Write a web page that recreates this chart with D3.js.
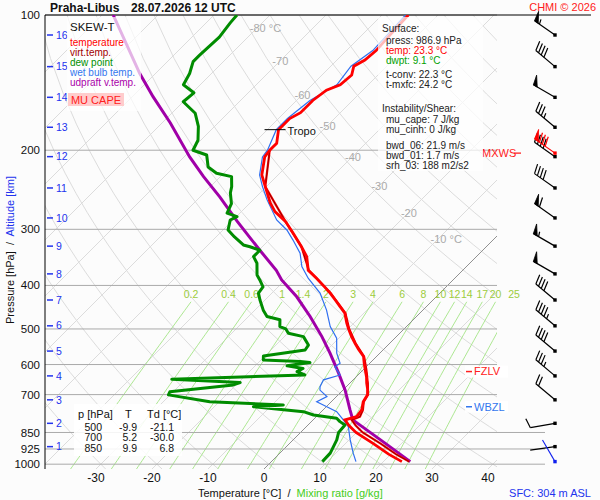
<!DOCTYPE html>
<html><head><meta charset="utf-8">
<script src="https://cdn.jsdelivr.net/npm/d3@7"></script>
<style>body{margin:0;background:#fff}svg{display:block;font-family:"Liberation Sans",Arial,sans-serif}</style>
</head><body><svg width="600" height="500"></svg>
<script>
// ---------- data ----------
const pressureTicks=[100,200,300,400,500,600,700,850,925,1000];
const longIsobars=[850,925,1000];
const tempTicks=[-30,-20,-10,0,10,20,30,40];
const isothermLabels=[-80,-70,-60,-50,-40,-30,-20,-10];
const isothermLabelP=[107,127,151,177,207,241,276,316];
const mixRatios=[0.2,0.4,0.6,1,1.4,2,3,4,6,8,10,12,14,17,20,25];
const heightKm=[1,2,3,4,5,6,7,8,9,10,11,12,13,14,15,16];
const heightP=[914,811,719,636,560,492,431,377,327,283,242.7,206.7,177.8,152.5,130.3,110.8];
const windDir=[262,260,310,310,310,310,310,300,300,305,305,305,310,300,310,305];
const windSpd=[2,10,20,35,40,45,40,50,55,60,40,40,35,50,40,55];
const maxWindP=203, maxWindDir=305, maxWindSpd=80;
const sfcWindDir=330;

const tempP=[986.9,950,900,850,820,797,784,757,726,700,680,660,640,617,596,576,555,538,520,500,485,461,446,430,416,403,386,370,345,328,306,288,274,262,241,227,207,200,193,180,170,165,155,147,143,136,130,126,120,111,100];
const tempT=[23.3,19.6,15.0,9.9,7.4,5.7,7.2,6.9,5.7,5.2,4.2,3.0,1.9,0.4,-1.0,-2.3,-4.5,-6.2,-8.0,-9.9,-11.3,-13.4,-15.4,-17.6,-19.6,-21.7,-24.6,-27.6,-30.3,-33.0,-36.9,-40.4,-44.0,-46.4,-50.2,-52.9,-55.6,-55.9,-55.9,-58.0,-58.0,-57.1,-57.1,-56.5,-55.0,-54.7,-55.9,-55.0,-54.7,-55.0,-55.3];

const virtP=[986.9,950,900,850,820,797,784,757,726,700,660,617,576,538,500,461,416,370,328,288,241,200];
const virtT=[24.6,20.9,16.3,11.1,8.6,6.9,7.8,7.1,5.8,5.3,3.2,0.6,-2.2,-6.1,-9.8,-13.3,-19.5,-27.5,-33.0,-40.4,-50.2,-55.9];

const dewP=[986.9,945,883,850,818,804,790,777,764,745,738,726,701,690,666,658,647,633,622,612,604,594,591,586,574,557,543,520,511,500,494,477,469,454,431,416,403,389,379,357,345,334,328,325,312,301,286,281,276,263,249,241,229,225,218,205,200,190,177,165.5,156,149,143,135,127,123,112,104,100];
const dewT=[9.1,9.0,7.8,6.8,6.6,5.1,3.9,-0.8,-3.2,-13.0,-8.0,-21.7,-30.3,-30.6,-20.5,-19.7,-32.5,-9.5,-11.5,-11.0,-14.3,-10.8,-12.7,-19.6,-20.3,-13.9,-14.2,-16.6,-19.9,-21.1,-22.6,-23.8,-26.7,-28.5,-30.9,-32.4,-32.7,-34.5,-35.9,-38.0,-39.8,-39.8,-42.2,-43.7,-46.7,-49.1,-50.5,-49.9,-52.3,-53.2,-55.3,-56.2,-58.0,-61.3,-63.9,-66.3,-69.6,-70.5,-72.9,-75.8,-80.0,-79.7,-83.0,-83.9,-85.4,-85.4,-85.1,-85.7,-85.9];

const wetP=[986.9,945,883,825,797,764,745,726,707,684,672,649,633,607,596,566,524,494,454,416,386,363,339,317,301,286,258,241,227,207,200,180,170,155,143,130,120,100];
const wetT=[15.1,13.1,10.2,7.5,5.4,2.75,0.1,-2.6,-1.7,-4.1,-4.7,-5.3,-3.2,-5.6,-5.3,-7.7,-10.4,-13.6,-17.2,-21.4,-26.1,-29.4,-32.1,-35.7,-38.6,-42.2,-47.5,-50.7,-53.3,-56.0,-56.3,-58.4,-58.4,-57.6,-55.6,-56.4,-55.3,-55.8];

const parcelP=[986.9,900,797,757,684,627,566,520,469,424,389,370,334,288,254,229,207,174,152,135,100];
const parcelT=[24.8,17.2,7.1,4.8,0.4,-3.8,-8.9,-13.3,-19.0,-24.9,-30.6,-33.3,-39.8,-49.0,-56.5,-63.0,-69.0,-78.5,-86.3,-92.8,-108];

const tropoP=180, fzlvP=622, wbzlP=745;

const legendItems=["temperature","virt.temp.","dew point","wet bulb temp.","udpraft v.temp."];
const legendColors=["#ff0000","#a00000","#009000","#3377ee","#aa00aa"];
const infoLines=[["Surface:",0,"#222"],["press: 986.9 hPa",1,"#222"],["temp: 23.3 °C",1,"#ff0000"],["dwpt: 9.1 °C",1,"#00a000"],["t-conv: 22.3 °C",1,"#222"],["t-mxfc: 24.2 °C",1,"#222"],["Instability/Shear:",0,"#222"],["mu_cape: 7 J/kg",1,"#222"],["mu_cinh: 0 J/kg",1,"#222"],["bwd_06: 21.9 m/s",1,"#222"],["bwd_01: 1.7 m/s",1,"#222"],["srh_03: 188 m2/s2",1,"#222"]];
const infoY=[28,40,50,60,74,84,108,119,129,145,155,165];
const tableP=["500","700","850"], tableT=["-9.9","5.2","9.9"], tableTd=["-21.1","-30.0","6.8"];

// ---------- scales ----------
const svg=d3.select("svg");
const yTop=15,yBot=469,xL=45,xR=497;
const y=d3.scaleLog().domain([100,1025]).range([yTop,yBot]);
const x=d3.scaleLinear().domain([-40,50]).range([40,544]);
const X=(t,p)=>x(t)+(yBot-y(p));
const K=273.15;

svg.append("rect").attr("width",600).attr("height",500).attr("fill","#fcfcfc");
svg.append("defs").append("clipPath").attr("id","clip").append("rect")
  .attr("x",xL).attr("y",yTop).attr("width",xR-xL).attr("height",yBot-yTop);
const grid=svg.append("g").attr("clip-path","url(#clip)");
const line=d3.line().x(d=>X(d.t,d.p)).y(d=>y(d.p));

// isotherms
d3.range(-150,60,10).forEach(T=>{
  grid.append("path").attr("d",line([{p:1025,t:T},{p:100,t:T}]))
    .attr("stroke","#dcdcdc").attr("fill","none").attr("stroke-width",1);
});
// dry adiabats
const pLevels=d3.range(1025,99,-25).concat([100]);
d3.range(-30,210,10).forEach(th=>{
  const pts=pLevels.map(p=>({p,t:(th+K)*Math.pow(p/1000,0.286)-K}));
  grid.append("path").attr("d",line(pts)).attr("stroke","#dcdcdc").attr("fill","none").attr("stroke-width",1);
});
// mixing ratio lines
const tFromW=(w,p)=>{const e=w*p/(622+w);const l=Math.log(e/6.112);return 243.5*l/(17.67-l);};
const mixTop=435;
mixRatios.forEach(w=>{
  const pts=d3.range(1025,mixTop-1,-15).concat([mixTop]).map(p=>({p,t:tFromW(w,p)}));
  grid.append("path").attr("d",line(pts)).attr("stroke","#a4e486").attr("fill","none").attr("stroke-width",0.9);
  svg.append("text").attr("x",X(tFromW(w,mixTop),mixTop)).attr("y",294).attr("dy","0.35em")
    .attr("text-anchor","middle").attr("font-size",10.5).attr("fill","#9ccc3c").text(w);
});
// isobars
pressureTicks.forEach(p=>{
  svg.append("line").attr("x1",xL).attr("x2",longIsobars.includes(p)?545:xR)
    .attr("y1",y(p)).attr("y2",y(p)).attr("stroke","#aaaaaa").attr("stroke-width",1);
  svg.append("text").attr("x",40).attr("y",y(p)).attr("dy","0.35em").attr("text-anchor","end")
    .attr("font-size",11.5).attr("fill","#111").text(p);
});
// 0 C isotherm
grid.append("path").attr("d",line([{p:1025,t:0},{p:100,t:0}])).attr("stroke","#888").attr("stroke-width",0.9).attr("fill","none");
// isotherm labels
isothermLabels.forEach((T,i)=>{
  const p=isothermLabelP[i];
  svg.append("text").attr("x",X(T,p)-7).attr("y",y(p)).attr("dy","0.35em").attr("font-size",11)
    .attr("fill","#aaaaaa").text(T+((T===-80||T===-10)?" °C":""));
});

// axes frame
svg.append("line").attr("x1",xL).attr("x2",xL).attr("y1",yTop).attr("y2",yBot).attr("stroke","#000");
svg.append("line").attr("x1",xL).attr("x2",591).attr("y1",yTop).attr("y2",yTop).attr("stroke","#000");
tempTicks.forEach(T=>{
  svg.append("text").attr("x",x(T)).attr("y",478).attr("dy","0.35em").attr("text-anchor","middle")
    .attr("font-size",12).attr("fill","#111").text(T);
});
// height labels
heightKm.forEach((h,i)=>{
  const yy=y(heightP[i]);
  svg.append("line").attr("x1",47).attr("x2",53).attr("y1",yy).attr("y2",yy).attr("stroke","#2233ee").attr("stroke-width",1.5);
  svg.append("text").attr("x",56).attr("y",yy).attr("dy","0.35em").attr("font-size",10.5).attr("fill","#2233ee").text(h);
});

// ---------- series ----------
const series=(P,T)=>P.map((p,i)=>({p,t:T[i]}));
const sg=svg.append("g").attr("clip-path","url(#clip)");
sg.append("path").attr("d",line(series(parcelP,parcelT))).attr("stroke","#a000a8").attr("stroke-width",3).attr("fill","none");
sg.append("path").attr("d",line(series(wetP,wetT))).attr("stroke","#2f6ff0").attr("stroke-width",1.2).attr("fill","none");
sg.append("path").attr("d",line(series(dewP,dewT))).attr("stroke","#008c00").attr("stroke-width",3).attr("fill","none").attr("stroke-linejoin","round");
sg.append("path").attr("d",line(series(virtP,virtT))).attr("stroke","#ff0000").attr("stroke-width",2.2).attr("fill","none");
sg.append("path").attr("d",line(series(virtP,virtT))).attr("stroke","#900000").attr("stroke-width",1).attr("fill","none");
sg.append("path").attr("d",line(series(tempP,tempT))).attr("stroke","#ff0000").attr("stroke-width",2.8).attr("fill","none");

// tropopause
const tropoT=tempT[tempP.indexOf(tropoP)];
svg.append("line").attr("x1",X(tropoT,tropoP)-14).attr("x2",X(tropoT,tropoP)+7).attr("y1",y(tropoP)).attr("y2",y(tropoP)).attr("stroke","#000");
svg.append("text").attr("x",X(tropoT,tropoP)+9).attr("y",y(tropoP)+1).attr("dy","0.35em").attr("font-size",11).attr("fill","#111").text("Tropo");

// FZLV / WBZL
[[fzlvP,"FZLV","#ff2020"],[wbzlP,"WBZL","#3377ee"]].forEach(([p,t,c])=>{
  const yy=y(p);
  svg.append("rect").attr("x",465).attr("y",yy-6).attr("width",43).attr("height",12).attr("fill","#fff").attr("opacity",0.9);
  svg.append("line").attr("x1",466).attr("x2",472).attr("y1",yy).attr("y2",yy).attr("stroke",c).attr("stroke-width",1.5);
  svg.append("text").attr("x",474).attr("y",yy).attr("dy","0.35em").attr("font-size",11).attr("fill",c).text(t);
});

// ---------- wind barbs ----------
function barb(p,dir,spd,color){
  const g=svg.append("g");
  const x0=555,y0=y(p),r=dir*Math.PI/180;
  const dx=Math.sin(r),dy=-Math.cos(r),L=25;
  const x1=x0+dx*L,y1=y0+dy*L;
  const nx=-dy,ny=dx;
  g.append("line").attr("x1",x0).attr("y1",y0).attr("x2",x1).attr("y2",y1).attr("stroke",color).attr("stroke-width",1.2);
  g.append("rect").attr("x",x0-1.7).attr("y",y0-1.7).attr("width",3.4).attr("height",3.4).attr("fill",color);
  const pt=s=>[x1-dx*s,y1-dy*s];
  const bl=10,ca=Math.cos(0.3),sa=Math.sin(0.3);
  let rem=Math.round(spd/5)*5,pos=0;
  while(rem>=50){
    const a=pt(pos),b=pt(pos+4.5);
    g.append("path").attr("d",`M${a}L${a[0]+nx*bl+dx*2},${a[1]+ny*bl+dy*2}L${b}Z`).attr("fill",color).attr("stroke",color).attr("stroke-width",0.8);
    pos+=6;rem-=50;
  }
  while(rem>=10){
    const a=pt(pos);
    g.append("line").attr("x1",a[0]).attr("y1",a[1]).attr("x2",a[0]+bl*(nx*ca+dx*sa)).attr("y2",a[1]+bl*(ny*ca+dy*sa)).attr("stroke",color).attr("stroke-width",1.2);
    pos+=3.5;rem-=10;
  }
  if(rem>=5){
    if(pos===0)pos=3.5;
    const a=pt(pos);
    g.append("line").attr("x1",a[0]).attr("y1",a[1]).attr("x2",a[0]+5*(nx*ca+dx*sa)).attr("y2",a[1]+5*(ny*ca+dy*sa)).attr("stroke",color).attr("stroke-width",1.2);
  }
}
heightP.forEach((p,i)=>barb(p,windDir[i],windSpd[i],"#000"));
barb(maxWindP,maxWindDir,maxWindSpd,"#ff0000");
svg.append("text").attr("x",482).attr("y",y(maxWindP)).attr("dy","0.35em").attr("font-size",11).attr("fill","#ff2020").text("MXWS");
svg.append("line").attr("x1",514).attr("x2",521).attr("y1",y(maxWindP)).attr("y2",y(maxWindP)).attr("stroke","#ff2020").attr("stroke-width",1.3);
// surface (blue)
(()=>{const p=tempP[0],r=sfcWindDir*Math.PI/180,x0=555,y0=y(p);
 svg.append("line").attr("x1",x0).attr("y1",y0).attr("x2",x0+Math.sin(r)*25).attr("y2",y0-Math.cos(r)*25).attr("stroke","#1020ee").attr("stroke-width",1.1);
 svg.append("rect").attr("x",x0-1.7).attr("y",y0-1.7).attr("width",3.4).attr("height",3.4).attr("fill","#1020ee");})();

// ---------- boxes & texts ----------
svg.append("rect").attr("x",67).attr("y",17).attr("width",74).attr("height",94).attr("fill","#fff").attr("opacity",0.7);
svg.append("text").attr("x",70).attr("y",27).attr("dy","0.35em").attr("font-size",11.5).attr("fill","#111").text("SKEW-T");
legendItems.forEach((t,i)=>{
  svg.append("text").attr("x",70).attr("y",42+i*10).attr("dy","0.35em").attr("font-size",10).attr("fill",legendColors[i]).text(t);
});
svg.append("rect").attr("x",68).attr("y",93).attr("width",56).attr("height",13).attr("fill","#ffcccc");
svg.append("text").attr("x",96).attr("y",100).attr("dy","0.35em").attr("text-anchor","middle").attr("font-size",11).attr("fill","#ff2020").text("MU CAPE");

svg.append("rect").attr("x",378).attr("y",17).attr("width",105).attr("height",154).attr("fill","#fff").attr("opacity",0.72);
infoLines.forEach((l,i)=>{
  svg.append("text").attr("x",l[1]?386:382).attr("y",infoY[i]).attr("dy","0.35em").attr("font-size",10).attr("fill",l[2]).text(l[0]);
});

svg.append("rect").attr("x",74).attr("y",404).attr("width",108).attr("height",52).attr("fill","#fff").attr("opacity",0.88);
svg.append("text").attr("x",78).attr("y",414).attr("dy","0.35em").attr("font-size",11).attr("fill","#111").text("p [hPa]");
svg.append("text").attr("x",125).attr("y",414).attr("dy","0.35em").attr("font-size",11).attr("fill","#111").text("T");
svg.append("text").attr("x",147).attr("y",414).attr("dy","0.35em").attr("font-size",11).attr("fill","#111").text("Td [°C]");
tableP.forEach((p,i)=>{
  const yy=427+i*10.5;
  svg.append("text").attr("x",102).attr("y",yy).attr("dy","0.35em").attr("text-anchor","end").attr("font-size",10.5).attr("fill","#111").text(p);
  svg.append("text").attr("x",137).attr("y",yy).attr("dy","0.35em").attr("text-anchor","end").attr("font-size",10.5).attr("fill","#111").text(tableT[i]);
  svg.append("text").attr("x",174).attr("y",yy).attr("dy","0.35em").attr("text-anchor","end").attr("font-size",10.5).attr("fill","#111").text(tableTd[i]);
});

// titles
svg.append("text").attr("x",50).attr("y",12).attr("font-size",12).attr("font-weight","bold").attr("fill","#111").text("Praha-Libus");
svg.append("text").attr("x",131).attr("y",12).attr("font-size",12).attr("font-weight","bold").attr("fill","#111").text("28.07.2026 12 UTC");
svg.append("text").attr("x",596).attr("y",11).attr("text-anchor","end").attr("font-size",11).attr("fill","#ff2020").text("CHMI © 2026");

const xt=svg.append("text").attr("x",198).attr("y",493).attr("dy","0.35em").attr("font-size",11).attr("fill","#111").attr("xml:space","preserve");
xt.append("tspan").text("Temperature [°C]  /  ");
xt.append("tspan").attr("fill","#44cc22").text("Mixing ratio [g/kg]");
svg.append("text").attr("x",591).attr("y",493).attr("dy","0.35em").attr("text-anchor","end").attr("font-size",11).attr("fill","#2233ee").text("SFC: 304 m ASL");

const yt=svg.append("text").attr("transform","translate(10,250) rotate(-90)").attr("text-anchor","middle").attr("dy","0.35em").attr("font-size",11).attr("fill","#111").attr("xml:space","preserve");
yt.append("tspan").text("Pressure [hPa]  /  ");
yt.append("tspan").attr("fill","#2233ee").text("Altitude [km]");
</script></body></html>
